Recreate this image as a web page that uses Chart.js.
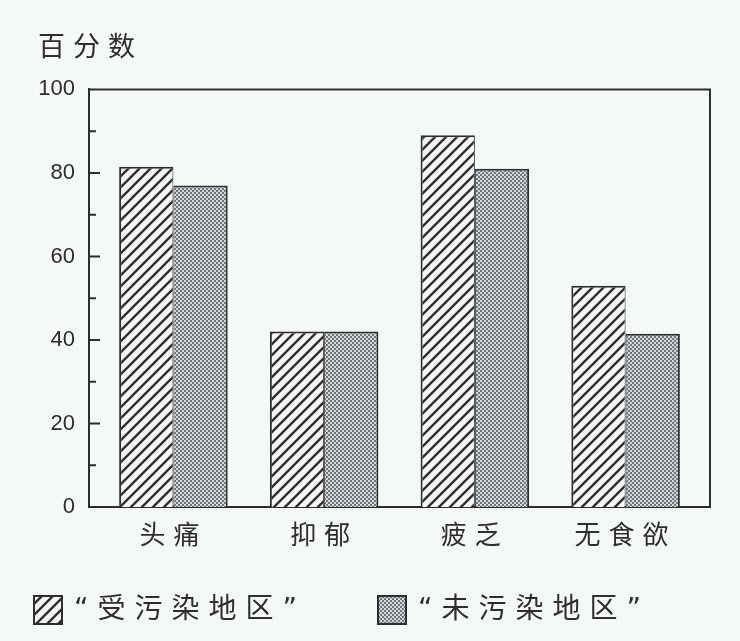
<!DOCTYPE html>
<html>
<head>
<meta charset="utf-8">
<script src="https://cdn.jsdelivr.net/npm/chart.js@4/dist/chart.umd.min.js"></script>
<style>
    html, body { margin: 0; padding: 0; background: #f5f8f9; }
    #chart { display: block; }
</style>
</head>
<body>
<canvas id="chart" width="740" height="641"></canvas>
<script>
const categories = ['头痛', '抑郁', '疲乏', '无食欲'];
const polluted = [81.5, 42, 89, 53];
const unpolluted = [77, 42, 81, 41.5];
const seriesNames = ['“受污染地区”', '“未污染地区”'];
const yTicks = [0, 20, 40, 60, 80, 100];

const cjk = '"Noto Sans CJK SC", sans-serif';
const ink = '#2e2e2e';

const canvas = document.getElementById('chart');
const ctx = canvas.getContext('2d');

// diagonal hatch  ////
function hatchPattern() {
    const c = document.createElement('canvas');
    c.width = 11;
    c.height = 11;
    const g = c.getContext('2d');
    g.fillStyle = '#f4f6f7';
    g.fillRect(0, 0, 11, 11);
    g.strokeStyle = '#303030';
    g.lineWidth = 2.4;
    g.beginPath();
    g.moveTo(-2, 13); g.lineTo(13, -2);
    g.moveTo(-2, 2); g.lineTo(2, -2);
    g.moveTo(9, 13); g.lineTo(13, 9);
    g.stroke();
    return ctx.createPattern(c, 'repeat');
}

// fine dotted screen
function dotPattern() {
    const c = document.createElement('canvas');
    c.width = 4;
    c.height = 4;
    const g = c.getContext('2d');
    g.fillStyle = '#70757a';
    g.fillRect(0, 0, 4, 4);
    g.fillStyle = '#d4d7d9';
    g.fillRect(0, 0, 2, 2);
    g.fillRect(2, 2, 2, 2);
    return ctx.createPattern(c, 'repeat');
}

const hatch = hatchPattern();
const dots = dotPattern();

// spaced-out CJK text like the printed figure, numbers stay tight
const spacing = {
    id: 'spacing',
    beforeDraw(chart) { chart.ctx.letterSpacing = '8px'; },
    afterDatasetsDraw(chart) { chart.ctx.letterSpacing = '0px'; }
};

// closed frame + inward ticks on the value axis
const frame = {
    id: 'frame',
    afterDatasetsDraw(chart) {
        const {ctx, chartArea: a, scales: {y}} = chart;
        ctx.save();
        ctx.strokeStyle = ink;
        ctx.lineWidth = 2;
        ctx.beginPath();
        ctx.moveTo(a.left, a.top);
        ctx.lineTo(a.right, a.top);
        ctx.lineTo(a.right, a.bottom);
        for (let v = 10; v < 100; v += 10) {
            const py = y.getPixelForValue(v);
            const len = v % 20 === 0 ? 11 : 7;
            ctx.moveTo(a.left, py);
            ctx.lineTo(a.left + len, py);
        }
        ctx.stroke();
        ctx.restore();
    }
};

const legendBoxes = {
    id: 'legendBoxes',
    afterDraw(chart) {
        const ctx = chart.ctx;
        const xs = [33, 377];
        ctx.save();
        ctx.letterSpacing = '9px';
        ctx.font = '28px "DejaVu Sans", "Noto Sans CJK SC", sans-serif';
        ctx.textBaseline = 'middle';
        chart.data.datasets.forEach((ds, i) => {
            const x = xs[i];
            ctx.fillStyle = ds.backgroundColor;
            ctx.fillRect(x, 595, 30, 30);
            ctx.strokeStyle = ink;
            ctx.lineWidth = 2;
            ctx.strokeRect(x + 1, 596, 28, 28);
            ctx.fillStyle = ink;
            ctx.fillText(ds.label, x + 41, 611);
        });
        ctx.restore();
    }
};

const config = {
    type: 'bar',
    data: {
        datasets: [{
            label: seriesNames[0],
            data: polluted.map((v, i) => ({x: i, y: v})),
            backgroundColor: hatch,
            borderColor: ink,
            borderWidth: {top: 2, left: 2, right: 1, bottom: 0}
        }, {
            label: seriesNames[1],
            data: unpolluted.map((v, i) => ({x: i, y: v})),
            backgroundColor: dots,
            borderColor: ink,
            borderWidth: {top: 2, left: 1, right: 2, bottom: 0}
        }]
    },
    options: {
        responsive: false,
        animation: false,
        categoryPercentage: 0.72,
        barPercentage: 1,
        layout: {padding: {left: 38, right: 30, top: 0, bottom: 84}},
        plugins: {
            legend: {display: false},
            tooltip: {enabled: false},
            title: {
                display: true,
                text: '百分数',
                align: 'start',
                color: ink,
                font: {family: cjk, size: 27, weight: 'normal'},
                padding: {top: 30, bottom: 27}
            }
        },
        scales: {
            x: {
                type: 'linear',
                min: -0.56,
                max: 3.56,
                offset: false,
                grid: {display: false, drawTicks: false, offset: false},
                border: {display: true, color: ink, width: 2},
                afterFit: (s) => { s.height = 50; },
                ticks: {
                    stepSize: 1,
                    includeBounds: false,
                    padding: 12,
                    color: ink,
                    font: {family: cjk, size: 26},
                    callback: (v) => categories[v] ?? ''
                }
            },
            y: {
                min: 0,
                max: 100,
                grid: {display: false, drawTicks: false},
                border: {display: true, color: ink, width: 2},
                afterFit: (s) => { s.width = 51; },
                afterBuildTicks: (s) => { s.ticks = yTicks.map(v => ({value: v})); },
                ticks: {
                    z: 1,
                    padding: 14,
                    color: ink,
                    font: {family: '"Liberation Sans", Arial, sans-serif', size: 22}
                }
            }
        }
    },
    plugins: [spacing, frame, legendBoxes]
};

const myChart = new Chart(canvas, config);
</script>
</body>
</html>
